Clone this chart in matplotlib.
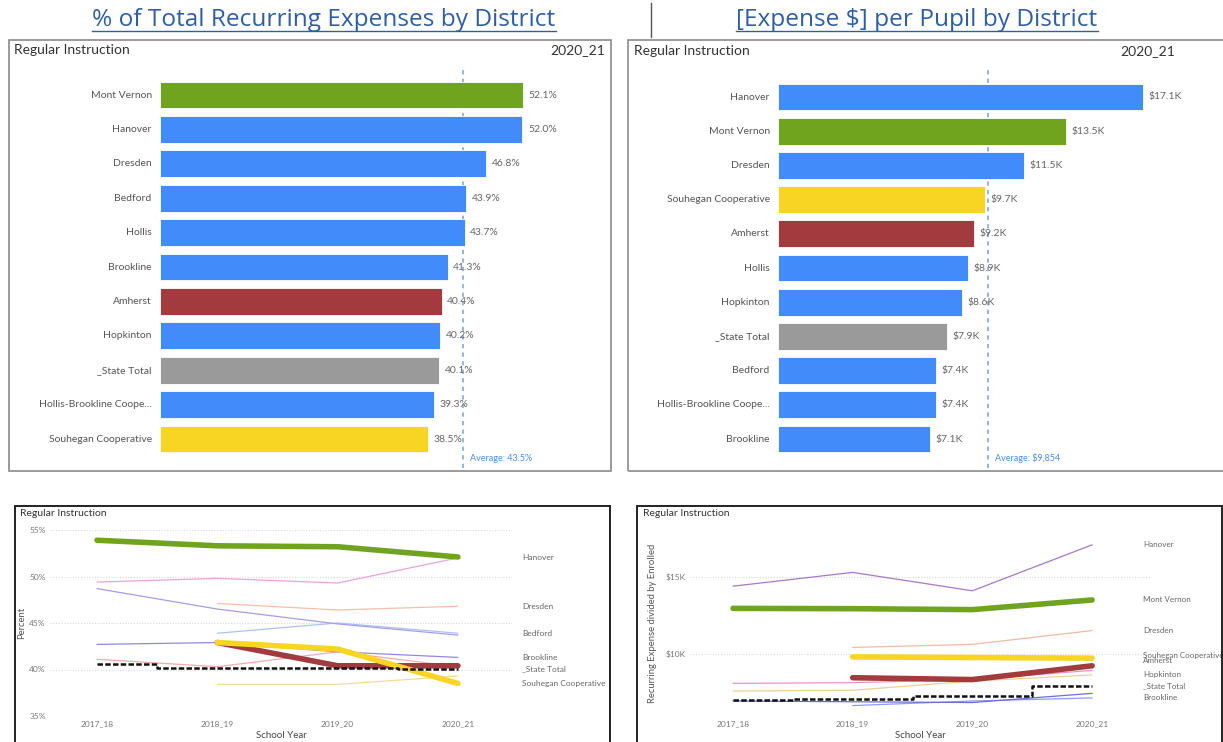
import numpy as np
import matplotlib
matplotlib.use("Agg")
import matplotlib.pyplot as plt
from matplotlib.patches import Rectangle
from matplotlib.lines import Line2D

W, H = 1223, 742

# ---------------- data ----------------
pct_categories = ["Mont Vernon", "Hanover", "Dresden", "Bedford", "Hollis", "Brookline",
                  "Amherst", "Hopkinton", "_State Total", "Hollis-Brookline Coope...",
                  "Souhegan Cooperative"]
pct_values = [52.1, 52.0, 46.8, 43.9, 43.7, 41.3, 40.4, 40.2, 40.1, 39.3, 38.5]
pct_average = 43.5

pp_categories = ["Hanover", "Mont Vernon", "Dresden", "Souhegan Cooperative", "Amherst",
                 "Hollis", "Hopkinton", "_State Total", "Bedford",
                 "Hollis-Brookline Coope...", "Brookline"]
pp_values_k = [17.1, 13.5, 11.5, 9.7, 9.2, 8.9, 8.6, 7.9, 7.4, 7.4, 7.1]
pp_average = 9854

years = ["2017_18", "2018_19", "2019_20", "2020_21"]
nan = np.nan

pct_series = {
    "Hollis-Brookline": [nan, 38.4, 38.4, 39.3],
    "Hopkinton": [41.1, 40.3, 41.9, 40.3],
    "Brookline": [42.7, 42.9, 41.9, 41.3],
    "Bedford": [nan, 43.9, 45.0, 43.9],
    "Hollis": [48.7, 46.5, 44.9, 43.7],
    "Dresden": [nan, 47.1, 46.4, 46.8],
    "Hanover": [49.4, 49.8, 49.3, 52.0],
    "Mont Vernon": [53.9, 53.3, 53.2, 52.1],
    "Amherst": [nan, 42.9, 40.4, 40.4],
    "Souhegan Cooperative": [nan, 42.9, 42.2, 38.5],
    "_State Total": [40.6, 40.2, 40.2, 40.1],
}
pct_labeled = ["Hanover", "Dresden", "Bedford", "Brookline", "_State Total", "Souhegan Cooperative"]

pp_series = {
    "Brookline": [nan, 6.6, 6.9, 7.1],
    "Bedford": [6.9, 6.85, 6.8, 7.4],
    "Hopkinton": [7.55, 7.6, 8.2, 8.6],
    "Hollis": [8.05, 8.1, 8.3, 8.9],
    "Dresden": [nan, 10.4, 10.6, 11.5],
    "Hanover": [14.4, 15.3, 14.1, 17.1],
    "Mont Vernon": [12.95, 12.93, 12.87, 13.5],
    "Souhegan Cooperative": [nan, 9.78, 9.74, 9.7],
    "Amherst": [nan, 8.42, 8.3, 9.2],
    "_State Total": [6.95, 7.05, 7.2, 7.9],
}
pp_labeled = ["Hanover", "Mont Vernon", "Dresden", "Souhegan Cooperative", "Amherst",
              "Hopkinton", "_State Total", "Brookline"]

# ---------------- styles ----------------
BLUE = "#418CFA"
GREEN = "#70A41F"
DRED = "#A33A3E"
GRAY = "#9A9A9A"
YELLOW = "#F8D523"
bar_color = {"Mont Vernon": GREEN, "Amherst": DRED, "_State Total": GRAY,
             "Souhegan Cooperative": YELLOW}

pct_style = {
    "Hollis-Brookline": dict(color="#F2DD98", lw=0.9),
    "Hopkinton": dict(color="#F0AAAA", lw=0.9),
    "Brookline": dict(color="#8E8AE4", lw=0.9),
    "Bedford": dict(color="#AAC4F2", lw=0.9),
    "Hollis": dict(color="#A69CE8", lw=0.9),
    "Dresden": dict(color="#F3C0A8", lw=0.9),
    "Hanover": dict(color="#E9A2E0", lw=0.9),
    "Mont Vernon": dict(color=GREEN, lw=4.0),
    "Amherst": dict(color=DRED, lw=4.0),
    "Souhegan Cooperative": dict(color=YELLOW, lw=4.0),
    "_State Total": dict(color="#111111", lw=1.8, ls=(0, (2.2, 0.9)), drawstyle="steps-mid"),
}
pp_style = {
    "Brookline": dict(color="#8E9CF0", lw=0.9),
    "Bedford": dict(color="#6C6CDC", lw=0.9),
    "Hopkinton": dict(color="#F0D090", lw=0.9),
    "Hollis": dict(color="#E892D2", lw=0.9),
    "Dresden": dict(color="#F2BBA2", lw=0.9),
    "Hanover": dict(color="#A878C6", lw=0.9),
    "Mont Vernon": dict(color=GREEN, lw=4.0),
    "Souhegan Cooperative": dict(color=YELLOW, lw=4.0),
    "Amherst": dict(color=DRED, lw=4.0),
    "_State Total": dict(color="#111111", lw=1.8, ls=(0, (2.2, 0.9)), drawstyle="steps-mid"),
}
pp_label_offset_px = {"Souhegan Cooperative": -3, "Amherst": -5}

FONT = ["Lato", "DejaVu Sans"]
plt.rcParams["font.family"] = FONT

fig = plt.figure(figsize=(W / 100, H / 100), dpi=100)
fig.patch.set_facecolor("white")


def fx(x):
    return x / W


def fy(y):
    return 1 - y / H


def add_ax(x0, y0, x1, y1):
    ax = fig.add_axes([fx(x0), fy(y1), (x1 - x0) / W, (y1 - y0) / H])
    ax.patch.set_alpha(0)
    return ax


def frame(x0, y0, x1, y1, color, lw):
    fig.patches.append(Rectangle((fx(x0), fy(y1)), (x1 - x0) / W, (y1 - y0) / H,
                                 transform=fig.transFigure, fill=False,
                                 edgecolor=color, linewidth=lw, zorder=0))


def ftext(x, y, s, **kw):
    return fig.text(fx(x), fy(y), s, **kw)


# ---------------- titles ----------------
TITLE_C = "#2F5DA8"
t1 = ftext(324, 20, "% of Total Recurring Expenses by District", ha="center", va="center",
           fontsize=17.6, color=TITLE_C, family=["Open Sans", "DejaVu Sans"])
t2 = ftext(917, 20, "[Expense $] per Pupil by District", ha="center", va="center",
           fontsize=17.6, color=TITLE_C, family=["Open Sans", "DejaVu Sans"])
fig.add_artist(Line2D([fx(651), fx(651)], [fy(3), fy(37)], transform=fig.transFigure,
                      color="#555555", lw=1.0))

# ---------------- panel frames ----------------
frame(9, 40, 611, 471, "#8A8A8A", 1.2)
frame(628, 40, 1230, 471, "#8A8A8A", 1.2)
frame(15, 506, 610, 750, "#222222", 1.4)
frame(637, 506, 1222, 750, "#222222", 1.4)

HDR_C = "#333333"
ftext(14, 50, "Regular Instruction", ha="left", va="center", fontsize=10, color=HDR_C)
ftext(605, 50, "2020_21", ha="right", va="center", fontsize=10, color=HDR_C)
ftext(634, 51, "Regular Instruction", ha="left", va="center", fontsize=10, color=HDR_C)
ftext(1175, 51, "2020_21", ha="right", va="center", fontsize=10, color=HDR_C)
ftext(20, 514, "Regular Instruction", ha="left", va="center", fontsize=7.5, color=HDR_C)
ftext(643, 514, "Regular Instruction", ha="left", va="center", fontsize=7.5, color=HDR_C)


# ---------------- bar charts ----------------
def bar_chart(x0, x1, y0, y1, row0_px, step_px, xmax, cats, vals, avg, fmt, avg_label):
    ax = add_ax(x0, y0, x1, y1)
    n = len(cats)
    pos = np.arange(n)
    ax.set_xlim(0, xmax)
    ax.set_ylim((y1 - row0_px) / step_px, (y0 - row0_px) / step_px)
    cols = [bar_color.get(c, BLUE) for c in cats]
    ax.barh(pos, vals, height=0.78, color=cols, edgecolor="white", linewidth=0.6, zorder=2)
    for p, v, c in zip(pos, vals, cats):
        ax.annotate(fmt(v), (v, p), xytext=(4, 0), textcoords="offset points",
                    ha="left", va="center", fontsize=7.5, color="#666666", zorder=3)
        ax.annotate(c, (0, p), xytext=(-6, 0), textcoords="offset points",
                    ha="right", va="center", fontsize=7.5, color="#555555",
                    annotation_clip=False)
    ax.axvline(avg, color="#8DB6F5", lw=1.4, ls=(0, (2.2, 2.2)), zorder=1)
    ax.annotate(avg_label, (avg, 0), xycoords=("data", "axes fraction"),
                xytext=(5, 7), textcoords="offset points", ha="left", va="center",
                fontsize=6.5, color="#4A8EF0", annotation_clip=False)
    for s in ax.spines.values():
        s.set_visible(False)
    ax.set_xticks([])
    ax.set_yticks([])
    return ax


bar_chart(160, 600, 66, 468, 95, 34.4, 440 / 6.97, pct_categories, pct_values,
          pct_average, lambda v: f"{v:.1f}%", f"Average: {pct_average:.1f}%")
bar_chart(778, 1215, 66, 468, 97, 34.2, 437 / 21.35, pp_categories, pp_values_k,
          pp_average / 1000, lambda v: f"${v:.1f}K", f"Average: ${pp_average:,}")


# ---------------- line charts ----------------
def line_chart(x0, x1, y0, y1, first_px, step_px, ylim, yticks, yfmt, series, styles,
               labeled, ylabel, label_x_px, ylabelpad, label_off=None):
    ax = add_ax(x0, y0, x1, y1)
    ax.set_xlim((x0 - first_px) / step_px, (x1 - first_px) / step_px)
    ax.set_ylim(*ylim)
    xs = np.arange(len(years))
    thin = [k for k in series if styles[k]["lw"] < 1.5]
    thick = [k for k in series if styles[k]["lw"] >= 3]
    dashed = [k for k in series if k not in thin and k not in thick]
    z = 2
    for k in thin + thick + dashed:
        st = dict(styles[k])
        ax.plot(xs, series[k], solid_capstyle="round", zorder=z, clip_on=False, **st)
        z += 1
    for t in yticks:
        ax.axhline(t, color="#D8D8D8", lw=0.8, ls=(0, (1, 1.5)), zorder=1)
    ax.set_yticks(yticks)
    ax.set_yticklabels([yfmt(t) for t in yticks])
    ax.set_xticks(xs)
    ax.set_xticklabels(years)
    ax.tick_params(length=0, labelsize=6, labelcolor="#777777", pad=3)
    for s in ax.spines.values():
        s.set_visible(False)
    ax.set_xlabel("School Year", fontsize=7, color="#444444", labelpad=3)
    ax.set_ylabel(ylabel, fontsize=6.8, color="#555555", labelpad=ylabelpad)
    label_off = label_off or {}
    for k in labeled:
        v = series[k][-1]
        ax.annotate(k, (label_x_px, v), xycoords=("figure pixels", "data"),
                    xytext=(0, -label_off.get(k, 0) * 0.72), textcoords="offset points",
                    ha="left", va="center", fontsize=6, color="#666666",
                    annotation_clip=False)
    return ax


axl = line_chart(50, 512, 530, 716, 97, 120.3, (35, 55), [35, 40, 45, 50, 55],
                 lambda t: f"{t}%", pct_series, pct_style, pct_labeled, "Percent", 522, 2)
axr = line_chart(690, 1150, 530, 716, 733, 119.7, (5.92, 18.07), [10, 15],
                 lambda t: f"${t}K", pp_series, pp_style, pp_labeled,
                 "Recurring Expense divided by Enrolled", 1143, 6, pp_label_offset_px)
for t in axr.texts:
    t.set_fontsize(5.8)

# underline titles
fig.canvas.draw()
r = fig.canvas.get_renderer()
for t in (t1, t2):
    bb = t.get_window_extent(r)
    fig.add_artist(Line2D([bb.x0 / W, bb.x1 / W], [(bb.y0 + 1) / H, (bb.y0 + 1) / H],
                          transform=fig.transFigure, color=TITLE_C, lw=1.0))

fig.savefig("out.png", dpi=100, facecolor="white")
